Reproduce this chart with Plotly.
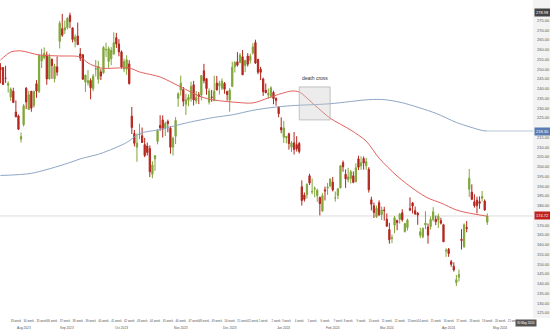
import plotly.graph_objects as go
import pandas as pd

# ---------------- data ----------------
holidays = ["2023-09-04", "2023-11-23", "2023-12-25", "2024-01-01",
            "2024-01-15", "2024-02-19", "2024-03-29", "2024-05-27"]
dates = [d for d in pd.bdate_range("2023-08-07", "2024-05-08")
         if d.strftime("%Y-%m-%d") not in holidays]

opens = [
    # Aug
    260.97, 250.87, 250.87, 245.40, 241.77, 235.70, 238.73, 228.02, 226.06, 214.12,
    221.55, 240.25, 229.34, 238.66, 231.31, 242.58, 238.58, 254.20, 255.98,
    # Sep
    257.26, 245.00, 255.14, 245.07, 251.22, 264.27, 270.76, 270.07, 271.32, 277.55,
    271.16, 264.35, 267.04, 257.85, 257.40, 243.38, 242.98, 244.26, 240.02, 250.00,
    # Oct
    244.81, 248.61, 248.14, 260.00, 253.98, 255.31, 257.75, 266.20, 262.92, 258.90,
    250.05, 250.10, 252.70, 225.95, 217.01, 210.00, 216.50, 215.88, 211.32, 210.60,
    209.28, 196.12,
    # Nov
    204.04, 212.97, 221.15, 223.98, 219.98, 223.15, 219.75, 210.03, 215.60, 235.03,
    239.29, 239.49, 232.00, 234.04, 235.04, 242.04, 233.75, 236.89, 236.68, 249.21,
    245.14,
    # Dec
    233.14, 235.75, 233.87, 242.92, 241.55, 240.27, 242.74, 238.55, 234.15, 241.22,
    251.21, 253.78, 253.48, 256.41, 251.90, 256.76, 254.49, 258.35, 263.66, 255.10,
    # Jan
    250.08, 244.98, 239.25, 236.86, 236.14, 238.11, 235.10, 230.57, 220.08, 215.10,
    214.86, 216.88, 209.99, 212.26, 211.30, 211.88, 189.70, 185.50, 185.63, 195.33,
    187.00,
    # Feb
    188.50, 185.04, 184.26, 177.21, 188.18, 189.00, 190.18, 192.11, 183.99, 185.30,
    189.16, 202.06, 196.13, 193.36, 194.00, 195.31, 192.29, 204.04, 200.42, 204.18,
    # Mar
    200.52, 198.73, 183.05, 179.99, 174.35, 181.50, 175.45, 177.77, 173.05, 167.77,
    163.16, 170.02, 172.36, 173.00, 176.39, 166.69, 168.76, 178.58, 181.41, 177.45,
    # Apr
    176.17, 164.75, 164.02, 170.07, 169.08, 169.34, 172.91, 173.04, 172.55, 172.34,
    170.24, 156.74, 157.64, 151.25, 148.97, 140.56, 143.33, 162.84, 158.96, 168.85,
    188.42, 186.98,
    # May
    182.00, 182.86, 182.10, 183.80, 182.40, 171.59,
]
highs = [
    265.50, 253.10, 251.10, 251.80, 243.79, 240.66, 240.50, 233.97, 226.74, 217.58,
    232.13, 240.82, 238.98, 238.92, 239.00, 244.38, 257.48, 260.51, 261.18,
    259.08, 258.00, 255.39, 252.81, 256.52, 274.85, 278.39, 274.98, 276.71, 278.98,
    271.44, 267.85, 273.93, 260.86, 257.79, 247.10, 249.55, 245.33, 247.55, 254.77,
    254.28, 250.02, 261.86, 263.60, 261.65, 261.36, 268.94, 268.60, 265.41, 259.60,
    255.40, 257.18, 254.63, 230.61, 218.86, 216.98, 222.05, 220.10, 214.80, 212.41,
    210.88, 202.80,
    205.99, 219.20, 226.37, 226.32, 223.12, 224.15, 220.80, 215.38, 225.40, 238.14,
    246.70, 240.88, 237.39, 237.10, 243.62, 244.01, 238.75, 238.33, 247.00, 252.75,
    245.22,
    240.19, 239.37, 246.66, 246.57, 244.08, 245.27, 243.44, 238.99, 240.30, 253.88,
    254.13, 258.74, 258.34, 259.84, 254.80, 258.22, 257.97, 263.34, 265.13, 255.19,
    251.25, 245.68, 242.70, 240.12, 241.25, 238.96, 235.50, 230.93, 225.34, 223.49,
    215.67, 217.45, 213.19, 217.80, 215.65, 212.73, 193.00, 186.78, 191.48, 196.36,
    193.97,
    189.88, 188.69, 184.68, 186.49, 189.79, 191.62, 194.12, 194.73, 187.26, 188.89,
    200.88, 203.17, 198.60, 199.44, 198.32, 197.57, 201.78, 205.60, 205.30, 205.28,
    204.52, 199.75, 184.59, 181.58, 180.04, 182.73, 179.53, 179.43, 176.05, 171.17,
    165.18, 174.72, 172.82, 176.25, 178.18, 171.20, 173.36, 184.25, 181.91, 179.57,
    176.75, 168.69, 168.82, 177.19, 170.86, 174.50, 179.22, 174.93, 175.88, 173.81,
    170.69, 158.19, 158.33, 152.20, 150.94, 144.44, 147.26, 167.97, 170.88, 172.12,
    198.87, 190.95,
    185.86, 184.60, 184.78, 187.56, 183.26, 176.06,
]
lows = [
    250.23, 242.76, 241.90, 243.00, 238.02, 233.75, 232.61, 225.38, 218.83, 212.36,
    220.58, 229.55, 229.29, 228.18, 230.35, 235.35, 237.77, 250.59, 255.05,
    242.01, 244.86, 245.06, 243.27, 246.67, 260.61, 266.60, 268.10, 270.42, 271.00,
    263.76, 261.20, 262.46, 254.21, 244.48, 238.31, 241.66, 234.58, 238.65, 246.35,
    242.62, 244.45, 247.60, 256.25, 250.65, 252.05, 257.65, 260.90, 256.63, 250.22,
    248.48, 247.08, 242.08, 216.78, 210.42, 202.51, 214.11, 212.20, 204.88, 205.77,
    194.67, 194.07,
    197.85, 211.45, 218.40, 215.00, 215.72, 217.64, 206.68, 205.69, 211.61, 230.72,
    236.45, 230.96, 226.54, 231.02, 233.34, 231.40, 232.33, 232.10, 234.01, 242.76,
    236.91,
    231.90, 233.29, 233.70, 239.17, 236.98, 239.27, 237.45, 233.87, 228.20, 240.79,
    248.30, 251.36, 253.01, 247.00, 248.55, 251.37, 252.91, 257.52, 252.71, 247.43,
    244.41, 236.32, 237.73, 234.90, 235.30, 232.04, 231.29, 225.37, 217.15, 212.18,
    212.01, 208.74, 207.56, 206.27, 207.75, 206.77, 180.06, 182.10, 183.67, 190.61,
    185.85,
    184.28, 182.00, 175.01, 177.11, 182.68, 185.58, 189.48, 187.28, 182.11, 183.35,
    188.86, 197.40, 189.13, 191.95, 191.36, 191.50, 192.00, 198.26, 198.44, 198.45,
    198.50, 186.72, 177.57, 173.70, 173.70, 174.70, 172.68, 172.41, 169.15, 160.51,
    160.76, 165.90, 167.42, 170.82, 171.80, 166.30, 167.26, 177.38, 176.00, 175.30,
    170.21, 163.36, 163.28, 168.01, 160.51, 167.79, 171.92, 170.01, 168.51, 170.36,
    161.38, 153.75, 153.78, 148.70, 146.22, 138.80, 141.11, 157.51, 158.36, 166.37,
    184.54, 182.84,
    179.01, 176.02, 178.42, 182.20, 177.40, 170.15,
]
closes = [
    251.45, 249.70, 242.19, 245.34, 242.65, 239.76, 232.96, 225.60, 219.22, 215.49,
    231.28, 233.19, 236.86, 230.04, 238.59, 238.82, 257.18, 256.90, 258.08,
    245.01, 256.49, 251.92, 251.49, 248.50, 273.58, 267.48, 271.30, 276.04, 274.39,
    265.28, 266.50, 262.59, 255.70, 244.88, 246.99, 244.12, 240.50, 246.38, 250.22,
    251.60, 246.53, 261.16, 260.05, 260.53, 259.67, 263.62, 262.99, 258.87, 251.12,
    253.92, 254.85, 242.68, 220.11, 211.99, 212.08, 216.52, 212.42, 205.76, 207.30,
    197.36, 200.84,
    205.66, 218.51, 219.96, 219.27, 222.18, 222.11, 209.98, 214.65, 223.71, 237.41,
    242.84, 233.59, 234.30, 235.60, 241.20, 234.21, 235.45, 236.08, 246.72, 244.14,
    240.08,
    238.83, 235.58, 238.72, 239.37, 242.64, 243.84, 239.74, 237.01, 239.29, 251.05,
    253.50, 252.08, 257.22, 247.14, 254.50, 252.54, 256.61, 261.44, 253.18, 248.48,
    248.42, 238.45, 237.93, 237.49, 240.45, 234.96, 233.94, 227.22, 218.89, 219.91,
    215.55, 211.88, 212.19, 208.80, 209.14, 207.83, 182.63, 183.25, 190.93, 191.59,
    187.29,
    188.86, 187.91, 181.06, 185.10, 187.58, 189.56, 193.57, 188.13, 184.02, 188.71,
    200.45, 199.95, 193.76, 194.77, 197.41, 191.97, 199.40, 199.73, 202.04, 201.88,
    202.64, 188.14, 180.74, 176.54, 178.65, 175.34, 177.77, 177.54, 169.48, 162.50,
    163.57, 173.80, 171.32, 175.66, 172.82, 170.83, 172.63, 177.67, 179.83, 175.79,
    175.22, 166.63, 168.38, 171.11, 164.90, 172.98, 176.88, 171.76, 174.60, 171.05,
    161.48, 157.11, 155.45, 149.93, 147.05, 142.05, 144.68, 162.13, 170.18, 168.29,
    194.05, 183.28,
    179.99, 180.01, 181.19, 184.76, 177.81, 174.72,
]

# 50-day moving average
ma50_dates = ["2023-08-08", "2023-08-14", "2023-08-18", "2023-08-29", "2023-09-11",
              "2023-09-21", "2023-09-26", "2023-10-03", "2023-10-18", "2023-10-24",
              "2023-11-03", "2023-11-15", "2023-11-28", "2023-12-05", "2023-12-14",
              "2023-12-27", "2024-01-05", "2024-01-12", "2024-01-19", "2024-01-24",
              "2024-02-01", "2024-02-09", "2024-02-22", "2024-03-01", "2024-03-08",
              "2024-03-19", "2024-03-28", "2024-04-05", "2024-04-12", "2024-04-22",
              "2024-04-29", "2024-05-08"]
ma50_values = [254.7, 258.8, 259.4, 257.3, 256.8,
               256.3, 253.2, 250.6, 250.6, 248.6,
               246.0, 240.9, 235.8, 234.2, 233.2,
               232.7, 235.3, 237.5, 238.8, 238.3,
               231.6, 224.9, 218.8, 213.1, 204.4,
               195.2, 188.0, 183.9, 181.4, 177.8,
               176.2, 174.6]

# 200-day moving average
ma200_dates = ["2023-08-08", "2023-08-24", "2023-09-14", "2023-09-21", "2023-10-03",
               "2023-10-17", "2023-10-24", "2023-11-03", "2023-11-20", "2023-12-05",
               "2023-12-14", "2023-12-27", "2024-01-08", "2024-01-19", "2024-02-09",
               "2024-03-04", "2024-03-12", "2024-03-21", "2024-04-10", "2024-04-22",
               "2024-05-06", "2024-05-08"]
ma200_values = [195.5, 196.6, 201.7, 204.0, 206.8,
                212.4, 217.0, 219.1, 222.7, 225.3,
                226.6, 228.9, 230.3, 231.3, 232.3,
                234.4, 234.4, 232.8, 227.4, 222.7,
                218.6, 218.3]

# weekly tick labels (mid-week positions); the last week is covered by the date tag
week_dates = list(pd.date_range("2023-08-09", "2024-05-22", freq="7D"))
week_labels = [f"{d.isocalendar().week} week" for d in week_dates]

month_dates = ["2023-08-21", "2023-09-14", "2023-10-13", "2023-11-15", "2023-12-13",
               "2024-01-16", "2024-02-12", "2024-03-13", "2024-04-17", "2024-05-15"]
month_labels = ["Aug 2023", "Sep 2023", "Oct 2023", "Nov 2023", "Dec 2023",
                "Jan 2024", "Feb 2024", "Mar 2024", "Apr 2024", "May 2024"]

price_ticks = [v for v in range(125, 290, 5)]

death_cross = {"x0": "2024-01-24", "x1": "2024-02-09", "y0": 224.0, "y1": 240.9,
               "label": "death cross", "label_x": "2024-02-01", "label_y": 245.5}
max_high_label = "278.98"
date_tag_label = "30 May 2024"

# ---------------- figure ----------------
GREEN = "#80a63a"
RED = "#b3261e"
FONT = "Arial, Liberation Sans, sans-serif"

last_close = closes[-1]
last_ma200 = ma200_values[-1]
tag_values = [last_close, last_ma200, float(max_high_label)]
shown_ticks = [v for v in price_ticks if all(abs(v - t) > 3 for t in tag_values)]

fig = go.Figure()
fig.add_trace(go.Candlestick(
    x=dates, open=opens, high=highs, low=lows, close=closes,
    increasing=dict(line=dict(color=GREEN, width=1), fillcolor=GREEN),
    decreasing=dict(line=dict(color=RED, width=1), fillcolor=RED),
    whiskerwidth=0, showlegend=False, hoverinfo="skip"))
fig.add_trace(go.Scatter(
    x=ma50_dates, y=ma50_values, mode="lines",
    line=dict(color="#e2615c", width=1, shape="spline", smoothing=0.8),
    showlegend=False, hoverinfo="skip"))
fig.add_trace(go.Scatter(
    x=ma200_dates, y=ma200_values, mode="lines",
    line=dict(color="#8ea7c6", width=1, shape="spline", smoothing=0.8),
    showlegend=False, hoverinfo="skip"))

shapes = [
    dict(type="rect", xref="paper", yref="paper", x0=1, x1=1.04, y0=0, y1=1,
         fillcolor="#f3f3f3", line=dict(width=0), layer="below"),
    dict(type="line", xref="paper", yref="y", x0=0, x1=1, y0=last_close, y1=last_close,
         line=dict(color="#dcdcdc", width=1), layer="below"),
    dict(type="line", xref="x", yref="y", x0=ma200_dates[-1], x1="2024-06-05",
         y0=last_ma200, y1=last_ma200, line=dict(color="#b9c6d6", width=1)),
    dict(type="rect", xref="x", yref="y", x0=death_cross["x0"], x1=death_cross["x1"],
         y0=death_cross["y0"], y1=death_cross["y1"],
         fillcolor="rgba(200,200,200,0.35)", line=dict(color="#b5b5b5", width=0.8)),
]

annotations = [
    dict(x=death_cross["label_x"], y=death_cross["label_y"], xref="x", yref="y",
         text=death_cross["label"], showarrow=False,
         font=dict(size=5, color="#333333", family=FONT)),
    dict(x=1, xref="paper", xanchor="left", y=last_close, yref="y",
         text=f"{last_close:.2f}", showarrow=False, bgcolor="#c0221c",
         font=dict(size=4, color="white", family=FONT), borderpad=1, xshift=0.5),
    dict(x=1, xref="paper", xanchor="left", y=last_ma200, yref="y",
         text=f"{last_ma200:.2f}", showarrow=False, bgcolor="#5a7bb0",
         font=dict(size=4, color="white", family=FONT), borderpad=1, xshift=0.5),
    dict(x=1, xref="paper", xanchor="left", y=float(max_high_label), yref="y",
         text=max_high_label, showarrow=False, bgcolor="#444444",
         font=dict(size=4, color="white", family=FONT), borderpad=1, xshift=0.5),
    dict(x="2024-05-30", xref="x", y=0, yref="paper", yshift=-5, yanchor="middle",
         text=date_tag_label, showarrow=False, bgcolor="#555555",
         font=dict(size=3, color="white", family=FONT), borderpad=1),
]
for d, t in zip(month_dates, month_labels):
    annotations.append(dict(x=d, xref="x", y=0, yref="paper", yshift=-9.5,
                            yanchor="middle", text=t, showarrow=False,
                            font=dict(size=3.2, color="#555555", family=FONT)))

fig.update_layout(
    width=550, height=330,
    margin=dict(l=0, r=17, t=0, b=12),
    paper_bgcolor="white", plot_bgcolor="white",
    font=dict(family=FONT, size=4, color="#555555"),
    shapes=shapes, annotations=annotations,
    showlegend=False,
    xaxis=dict(
        type="date",
        range=["2023-08-07 20:00", "2024-06-03 18:00"],
        rangebreaks=[dict(bounds=["sat", "mon"]), dict(values=holidays)],
        rangeslider=dict(visible=False),
        tickvals=week_dates, ticktext=week_labels, tickangle=0,
        tickfont=dict(size=2.8, color="#555555"),
        showgrid=False, zeroline=False, showline=False, ticks="",
    ),
    yaxis=dict(
        side="right",
        range=[122.4, 285.5],
        tickvals=shown_ticks, tickformat=".2f",
        tickfont=dict(size=4, color="#555555"),
        showgrid=False, zeroline=False, showline=False, ticks="",
        ticklabelstandoff=3,
    ),
)

fig.write_html("out.html")
